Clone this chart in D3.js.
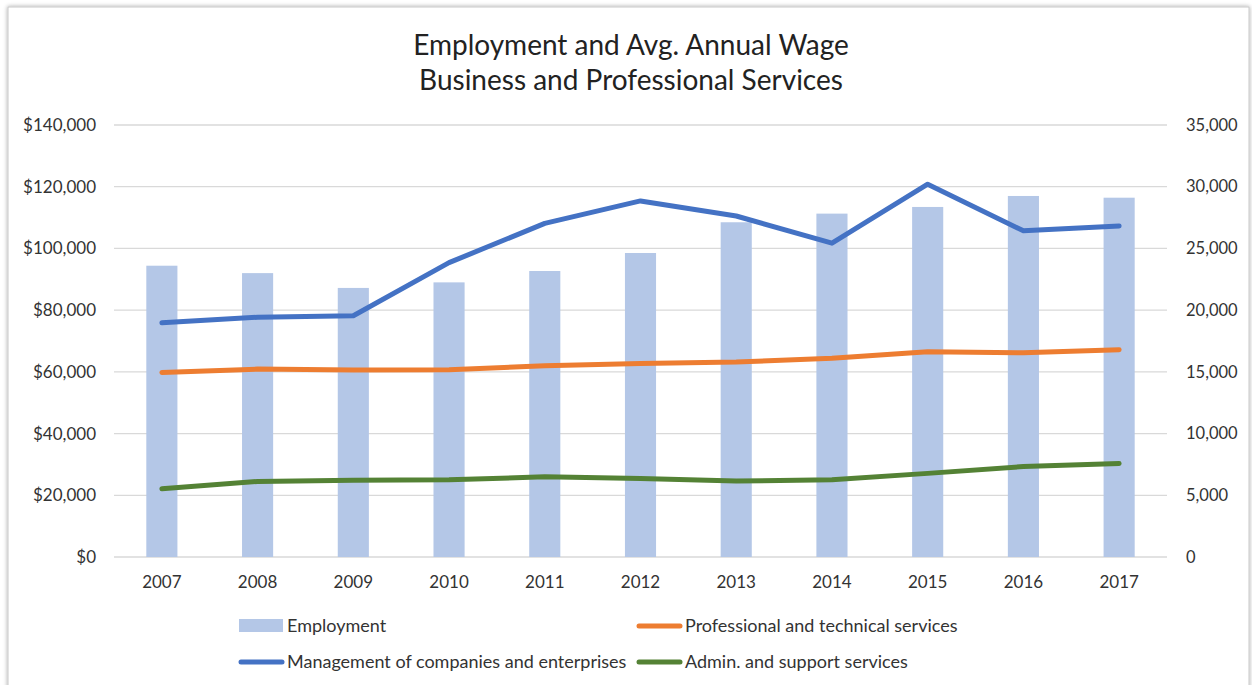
<!DOCTYPE html>
<html>
<head>
<meta charset="utf-8">
<script src="https://cdn.jsdelivr.net/npm/d3@7"></script>
<style>
    body { margin: 0; background: #fff; }
    text { font-family: Lato, "Open Sans", sans-serif; fill: #333; }
    .grid line { stroke: #d9d9d9; stroke-width: 1.3; }
    .axis path, .axis line { display: none; }
</style>
</head>
<body>
<svg id="chart" width="1252" height="685"></svg>
<script>
// Data
const years = ["2007", "2008", "2009", "2010", "2011", "2012", "2013", "2014", "2015", "2016", "2017"];
const employment = [23600, 23000, 21800, 22250, 23170, 24630, 27120, 27820, 28360, 29250, 29110];
const management = [75900, 77700, 78200, 95400, 108100, 115400, 110500, 101700, 120800, 105700, 107300];
const professional = [59800, 60900, 60600, 60700, 62000, 62700, 63200, 64400, 66500, 66200, 67200];
const admin = [22100, 24500, 24900, 25000, 26000, 25400, 24600, 25000, 27100, 29300, 30300];
const wageTicks = [0, 20000, 40000, 60000, 80000, 100000, 120000, 140000];
const empTicks = [0, 5000, 10000, 15000, 20000, 25000, 30000, 35000];
const titleLines = ["Employment and Avg. Annual Wage", "Business and Professional Services"];

let svg = d3.select("#chart");

// frame with a soft shadow
let defs = svg.append("defs");
let f = defs.append("filter").attr("id", "shadow").attr("x", "-5%").attr("y", "-5%").attr("width", "110%").attr("height", "110%");
f.append("feDropShadow").attr("dx", 0).attr("dy", 0).attr("stdDeviation", 2).attr("flood-color", "#000").attr("flood-opacity", 0.35);
svg.append("rect")
    .attr("x", 8).attr("y", 7)
    .attr("width", 1241).attr("height", 690)
    .attr("fill", "#fff")
    .attr("stroke", "#c8c8c8")
    .attr("filter", "url(#shadow)");

const plotLeft = 114, plotRight = 1167, plotTop = 125, plotBottom = 557;

let x = d3.scaleBand().domain(years).range([plotLeft, plotRight]).paddingInner(0.675).paddingOuter(0.3375);
let yWage = d3.scaleLinear().domain([0, 140000]).range([plotBottom, plotTop]);
let yEmp = d3.scaleLinear().domain([0, 35000]).range([plotBottom, plotTop]);

// gridlines
svg.append("g").attr("class", "grid")
    .selectAll("line").data(wageTicks).join("line")
    .attr("x1", plotLeft).attr("x2", plotRight)
    .attr("y1", d => yWage(d)).attr("y2", d => yWage(d));

// axes
svg.append("g").attr("class", "axis")
    .attr("transform", "translate(" + (plotLeft - 10) + ",0)")
    .call(d3.axisLeft(yWage).tickValues(wageTicks).tickSize(0).tickPadding(8).tickFormat(d => "$" + d3.format(",")(d)))
    .selectAll("text").style("font-size", "17px");

svg.append("g").attr("class", "axis")
    .attr("transform", "translate(" + (plotRight + 11) + ",0)")
    .call(d3.axisRight(yEmp).tickValues(empTicks).tickSize(0).tickPadding(8).tickFormat(d3.format(",")))
    .selectAll("text").style("font-size", "16.5px");

svg.append("g").attr("class", "axis")
    .attr("transform", "translate(0," + (plotBottom + 11) + ")")
    .call(d3.axisBottom(x).tickSize(0).tickPadding(8))
    .selectAll("text").style("font-size", "17px");

// employment bars (right axis)
svg.append("g").selectAll("rect").data(employment).join("rect")
    .attr("x", (d, i) => x(years[i]))
    .attr("y", d => yEmp(d))
    .attr("width", x.bandwidth())
    .attr("height", d => plotBottom - yEmp(d))
    .attr("fill", "#b4c7e7");

// wage lines (left axis)
let series = [
    {name: "Management of companies and enterprises", values: management, color: "#4472c4"},
    {name: "Professional and technical services", values: professional, color: "#ed7d31"},
    {name: "Admin. and support services", values: admin, color: "#548235"}
];
let line = d3.line()
    .x((d, i) => x(years[i]) + x.bandwidth() / 2)
    .y(d => yWage(d));
svg.append("g").selectAll("path").data(series).join("path")
    .attr("d", d => line(d.values))
    .attr("fill", "none")
    .attr("stroke", d => d.color)
    .attr("stroke-width", 5)
    .attr("stroke-linecap", "round")
    .attr("stroke-linejoin", "round");

// title
svg.append("text")
    .attr("x", 631).attr("y", 55)
    .attr("text-anchor", "middle")
    .style("font-size", "28px")
    .style("fill", "#222")
    .selectAll("tspan").data(titleLines).join("tspan")
    .attr("x", 631)
    .attr("dy", (d, i) => i === 0 ? 0 : 35)
    .text(d => d);

// legend
let legend = [
    {name: "Employment", type: "bar", color: "#b4c7e7", x: 239, y: 626},
    {name: series[1].name, type: "line", color: series[1].color, x: 637, y: 626},
    {name: series[0].name, type: "line", color: series[0].color, x: 239, y: 662},
    {name: series[2].name, type: "line", color: series[2].color, x: 637, y: 662}
];
let lg = svg.append("g").selectAll("g").data(legend).join("g")
    .attr("transform", d => "translate(" + d.x + "," + d.y + ")");
lg.filter(d => d.type === "bar").append("rect")
    .attr("x", 0).attr("y", -7).attr("width", 44).attr("height", 13)
    .attr("fill", d => d.color);
lg.filter(d => d.type === "line").append("line")
    .attr("x1", 2).attr("x2", 43).attr("y1", 0).attr("y2", 0)
    .attr("stroke", d => d.color).attr("stroke-width", 5).attr("stroke-linecap", "round");
lg.append("text")
    .attr("x", 48).attr("y", 6)
    .style("font-size", "18px")
    .text(d => d.name);
</script>
</body>
</html>
